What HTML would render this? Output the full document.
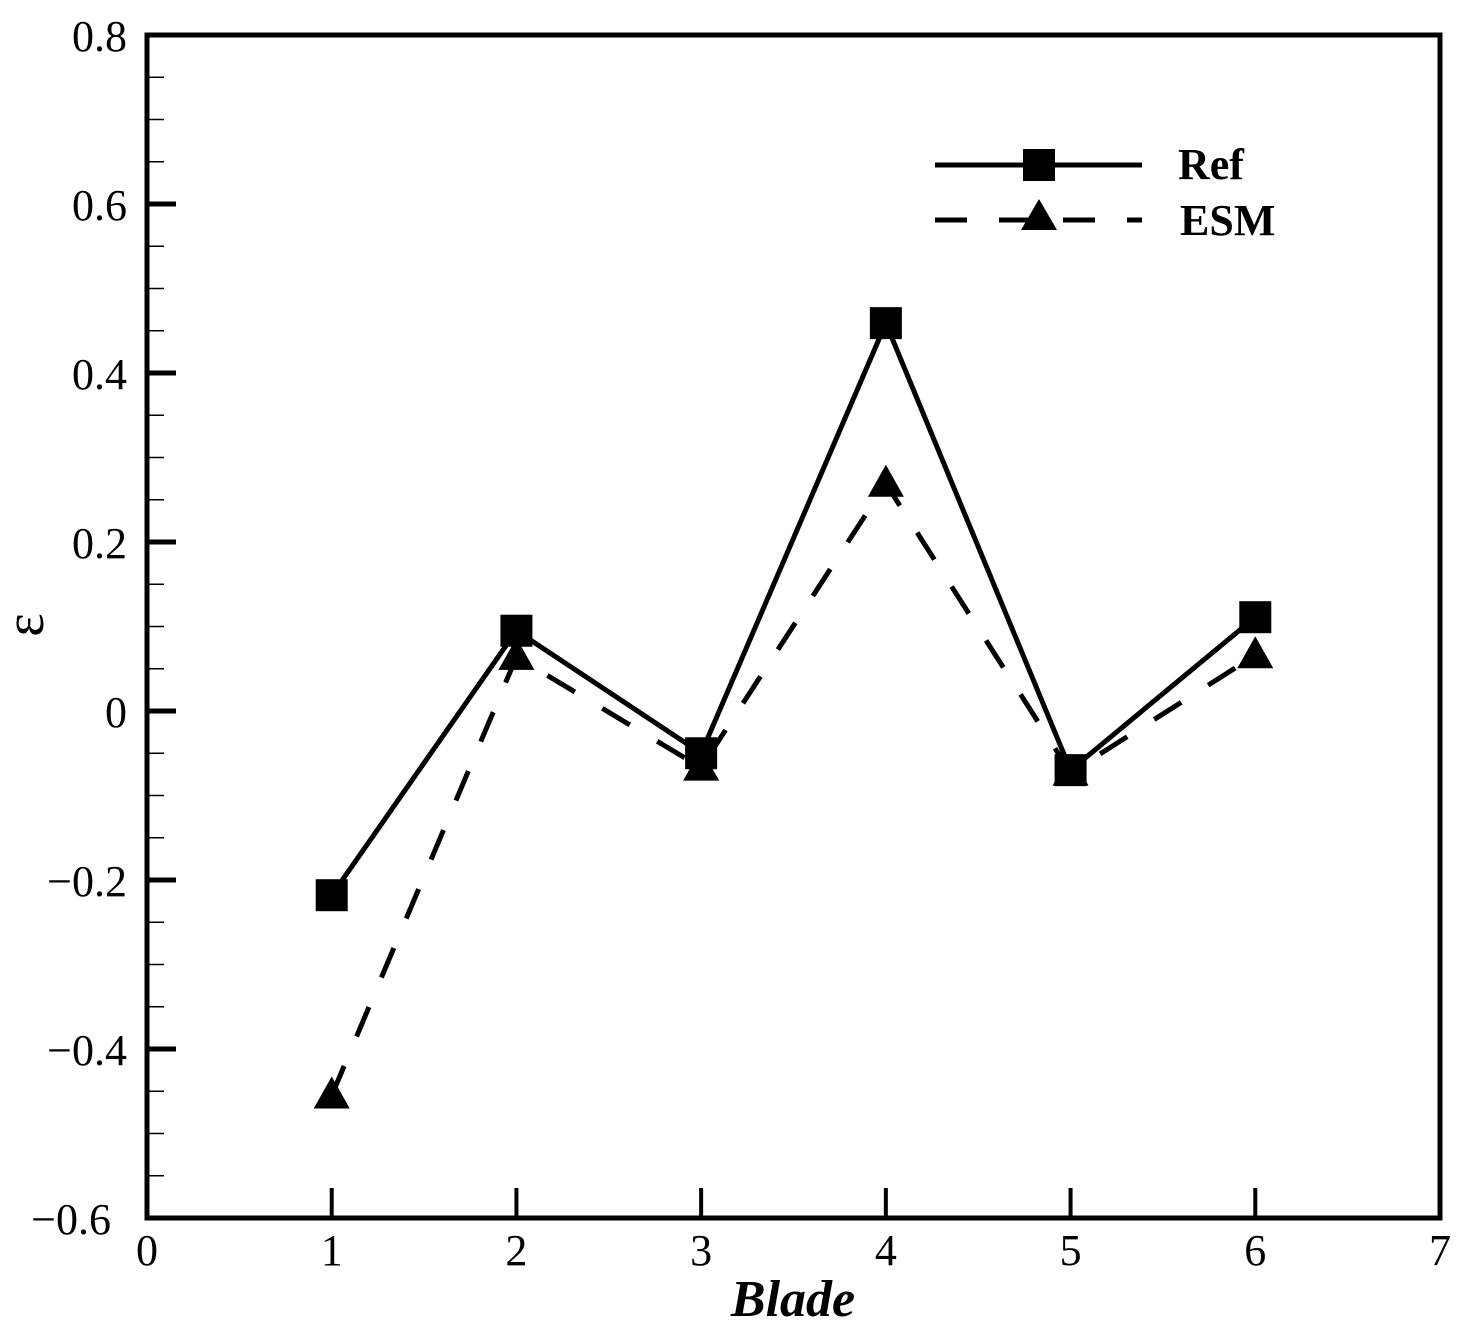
<!DOCTYPE html>
<html><head><meta charset="utf-8"><style>
html,body{margin:0;padding:0;background:#fff;}
svg{display:block;font-family:"Liberation Serif",serif;}
</style></head><body>
<svg id="chart" width="1484" height="1335" viewBox="0 0 1484 1335" xmlns="http://www.w3.org/2000/svg">
<g id="axes"></g>
<g id="series"></g>
<text x="793" y="1316" font-size="52" font-weight="bold" font-style="italic" text-anchor="middle">Blade</text>
<text x="30" y="625" font-size="56" text-anchor="middle" transform="rotate(-90 30 625)" dominant-baseline="middle">ε</text>
<g>
<line x1="935" y1="165" x2="1142" y2="165" stroke="#000" stroke-width="5"/>
<rect x="1023" y="149" width="32" height="32" fill="#000"/>
<text x="1178" y="179" font-size="44" font-weight="bold">Ref</text>
<line x1="935" y1="220" x2="1142" y2="220" stroke="#000" stroke-width="5" stroke-dasharray="32,32"/>
<polygon points="1039,199 1057,230 1021,230" fill="#000"/>
<text x="1180" y="235" font-size="44" font-weight="bold">ESM</text>
</g>
</svg>
<script>
const categories = [1, 2, 3, 4, 5, 6];
const refValues = [-0.218, 0.095, -0.05, 0.459, -0.07, 0.111];
const esmValues = [-0.455, 0.064, -0.067, 0.269, -0.073, 0.066];
const xTickLabels = ["0","1","2","3","4","5","6","7"];
const yTickValues = [-0.6,-0.4,-0.2,0,0.2,0.4,0.6,0.8];
const yTickLabels = ["\u22120.6","\u22120.4","\u22120.2","0","0.2","0.4","0.6","0.8"];

const L=147,R=1440,T=35,B=1218;
const xs=v=>L+(v-0)/(7-0)*(R-L);
const ys=v=>B-(v+0.6)/1.4*(B-T);
const NS="http://www.w3.org/2000/svg";
function mk(tag,attrs,parent){const e=document.createElementNS(NS,tag);for(const k in attrs)e.setAttribute(k,attrs[k]);parent.appendChild(e);return e;}
const axes=document.getElementById('axes'), ser=document.getElementById('series');

const frame=mk('rect',{x:L,y:T,width:R-L,height:B-T,fill:'none',stroke:'#000','stroke-width':5},axes);



xTickLabels.forEach((lab,i)=>{
  const x=xs(i);
  const t=mk('line',{x1:x,y1:B,x2:x,y2:B-30,stroke:'#000','stroke-width':4},axes);
  
  
  const tx=mk('text',{x:x,y:B+47,'font-size':44,'text-anchor':'middle'},axes);
  tx.textContent=lab;
  
  
});
yTickValues.forEach((v,i)=>{
  const y=ys(v);
  const t=mk('line',{x1:L,y1:y,x2:L+29,y2:y,stroke:'#000','stroke-width':5},axes);
  
  
  const tx=mk('text',{x:i===0?111:127,y:y+16,'font-size':44,'text-anchor':'end'},axes);
  tx.textContent=yTickLabels[i];
  
  
  if(i<yTickValues.length-1){for(let k=1;k<4;k++){const my=ys(v+k*0.05);
    const m=mk('line',{x1:L,y1:my,x2:L+17,y2:my,stroke:'#000','stroke-width':1.5},axes);
    
    }}
});

const refPts=categories.map((c,i)=>xs(c)+','+ys(refValues[i])).join(' ');
const esmPts=categories.map((c,i)=>xs(c)+','+ys(esmValues[i])).join(' ');
const el=mk('polyline',{points:esmPts,fill:'none',stroke:'#000','stroke-width':5,'stroke-dasharray':'32,32'},ser);


const rl=mk('polyline',{points:refPts,fill:'none',stroke:'#000','stroke-width':5},ser);


categories.forEach((c,i)=>{
  const x=xs(c),y=ys(esmValues[i]);
  const p=mk('polygon',{points:`${x},${y-19} ${x+18},${y+13} ${x-18},${y+13}`,fill:'#000'},ser);
  
  
});
categories.forEach((c,i)=>{
  const x=xs(c),y=ys(refValues[i]);
  const r=mk('rect',{x:x-16,y:y-16,width:32,height:32,fill:'#000'},ser);
  
  
});
</script>
</body></html>
